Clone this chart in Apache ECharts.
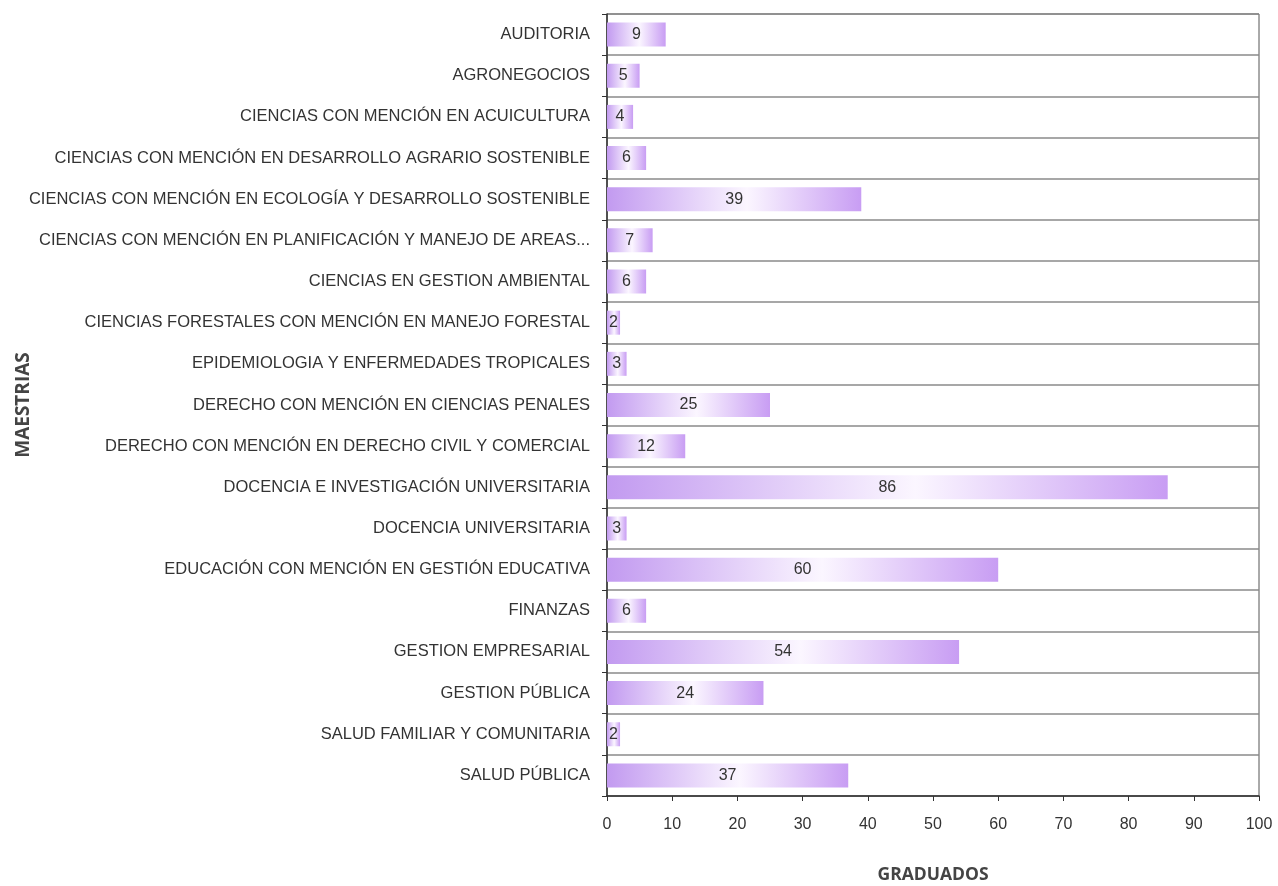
<!DOCTYPE html>
<html>
<head>
<meta charset="utf-8">
<script src="https://cdn.jsdelivr.net/npm/echarts@6/dist/echarts.min.js"></script>
<style>
  html, body { margin: 0; padding: 0; background: #fff; }
  #main { width: 1278px; height: 886px; }
</style>
</head>
<body>
<div id="main"></div>
<script>
// maestrias (de arriba hacia abajo)
var maestrias = [
    'AUDITORIA',
    'AGRONEGOCIOS',
    'CIENCIAS CON MENCIÓN EN ACUICULTURA',
    'CIENCIAS CON MENCIÓN EN DESARROLLO AGRARIO SOSTENIBLE',
    'CIENCIAS CON MENCIÓN EN ECOLOGÍA Y DESARROLLO SOSTENIBLE',
    'CIENCIAS CON MENCIÓN EN PLANIFICACIÓN Y MANEJO DE AREAS...',
    'CIENCIAS EN GESTION AMBIENTAL',
    'CIENCIAS FORESTALES CON MENCIÓN EN MANEJO FORESTAL',
    'EPIDEMIOLOGIA Y ENFERMEDADES TROPICALES',
    'DERECHO CON MENCIÓN EN CIENCIAS PENALES',
    'DERECHO CON MENCIÓN EN DERECHO CIVIL Y COMERCIAL',
    'DOCENCIA E INVESTIGACIÓN UNIVERSITARIA',
    'DOCENCIA UNIVERSITARIA',
    'EDUCACIÓN CON MENCIÓN EN GESTIÓN EDUCATIVA',
    'FINANZAS',
    'GESTION EMPRESARIAL',
    'GESTION PÚBLICA',
    'SALUD FAMILIAR Y COMUNITARIA',
    'SALUD PÚBLICA'
];

// graduados por maestria
var graduados = [9, 5, 4, 6, 39, 7, 6, 2, 3, 25, 12, 86, 3, 60, 6, 54, 24, 2, 37];

var myChart = echarts.init(document.getElementById('main'));

// degradado morado -> blanco -> morado
var colorBarra = new echarts.graphic.LinearGradient(0, 0, 1, 0, [
    { offset: 0, color: '#c29af0' },
    { offset: 0.55, color: '#fbf6ff' },
    { offset: 1, color: '#c89df3' }
]);

var option = {
    animation: false,
    textStyle: { fontFamily: 'Liberation Sans' },
    grid: {
        left: 607,
        right: 19,
        top: 14,
        bottom: 90,
        outerBoundsMode: 'none',
        show: true,
        borderColor: '#555',
        borderWidth: 1
    },
    xAxis: {
        type: 'value',
        min: 0,
        max: 100,
        interval: 10,
        name: 'GRADUADOS',
        nameLocation: 'middle',
        nameGap: 70,
        nameMoveOverlap: false,
        nameTextStyle: { fontFamily: 'Open Sans', fontSize: 17.5, fontWeight: 'bold', color: '#444' },
        axisLine: { show: true, lineStyle: { color: '#333', width: 1.5 } },
        axisTick: { show: true, length: 5, lineStyle: { color: '#333' } },
        axisLabel: { fontSize: 16, color: '#333', margin: 21 },
        splitLine: { show: false }
    },
    yAxis: {
        type: 'category',
        inverse: true,
        data: maestrias,
        name: 'MAESTRIAS',
        nameLocation: 'middle',
        nameGap: 574,
        nameMoveOverlap: false,
        nameRotate: 90,
        nameTextStyle: { fontFamily: 'Open Sans', fontSize: 19, fontWeight: 'bold', color: '#444' },
        axisLine: { show: true, lineStyle: { color: '#333', width: 1.5 } },
        axisTick: { show: true, length: 5, lineStyle: { color: '#333' } },
        axisLabel: { fontSize: 16.5, color: '#333', margin: 17 },
        splitLine: { show: true, lineStyle: { color: '#8a8a8a', width: 1.5 } }
    },
    series: [{
        type: 'bar',
        data: graduados,
        barWidth: 24,
        itemStyle: { color: colorBarra },
        label: {
            show: true,
            position: 'inside',
            fontSize: 16,
            color: '#333'
        }
    }]
};

myChart.setOption(option);
</script>
</body>
</html>
